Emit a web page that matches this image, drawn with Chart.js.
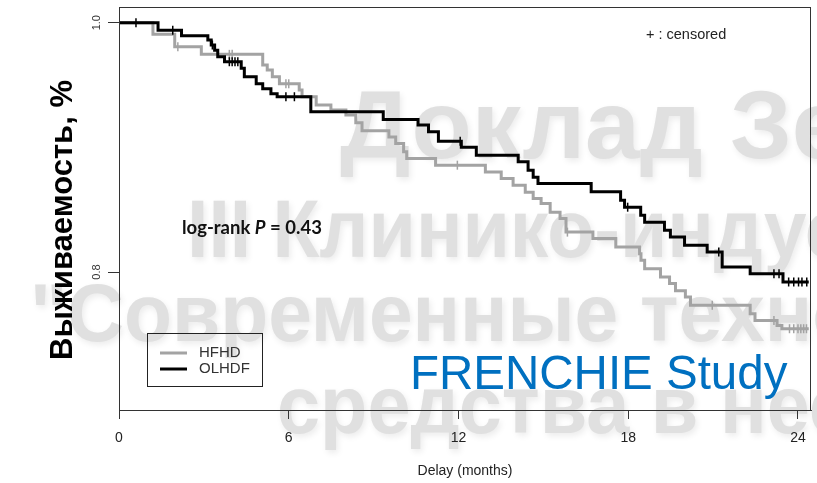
<!DOCTYPE html>
<html lang="ru">
<head>
<meta charset="UTF-8">
<title>FRENCHIE Study</title>
<script src="https://cdn.jsdelivr.net/npm/chart.js"></script>
<style>
    body { margin: 0; background: #fff; }
    canvas { display: block; }
</style>
</head>
<body>
<canvas id="kmChart" width="817" height="483"></canvas>
<script>
// Kaplan-Meier steps: time (months) and survival after each drop
const hfhdTime = [0, 1.20, 1.97, 2.91, 5.08, 5.24, 5.42, 5.67, 6.37, 6.47, 6.97, 7.49, 8.02, 8.37, 8.59, 9.54, 9.78, 10.06, 10.17, 11.19, 12.95, 13.51, 13.93, 14.36, 14.64, 14.92, 15.24, 15.59, 15.80, 16.75, 17.56, 18.40, 18.45, 18.58, 19.14, 19.46, 19.67, 20.02, 20.20, 22.31, 22.48, 23.26, 23.43, 24.38];
const hfhdSurv = [1.0, 0.9907, 0.9807, 0.9746, 0.966, 0.962, 0.9566, 0.951, 0.946, 0.9406, 0.9339, 0.93, 0.926, 0.9197, 0.9133, 0.9084, 0.903, 0.8964, 0.891, 0.8857, 0.8803, 0.875, 0.8697, 0.864, 0.859, 0.855, 0.848, 0.843, 0.832, 0.8268, 0.820, 0.8147, 0.8094, 0.8027, 0.796, 0.7907, 0.785, 0.780, 0.7733, 0.7666, 0.761, 0.757, 0.7545, 0.7545];
const hfhdCensored = [2.08, 3.9, 4.0, 5.9, 6.0, 11.96, 15.85, 20.97, 23.15, 23.7, 23.85, 24.0, 24.1, 24.2, 24.3];

const olhdfTime = [0, 1.38, 2.21, 3.14, 3.26, 3.38, 3.49, 3.73, 4.32, 4.43, 4.85, 5.08, 5.37, 5.59, 6.78, 9.34, 10.57, 10.94, 11.29, 12.10, 12.63, 14.11, 14.46, 14.64, 14.81, 16.69, 17.73, 17.87, 18.44, 18.58, 19.28, 19.49, 19.99, 20.79, 21.32, 22.31, 23.47, 24.38];
const olhdfSurv = [1.0, 0.994, 0.9896, 0.9861, 0.9821, 0.978, 0.9727, 0.9687, 0.9634, 0.9566, 0.951, 0.947, 0.943, 0.9406, 0.9285, 0.9224, 0.918, 0.9125, 0.905, 0.900, 0.8937, 0.8884, 0.8817, 0.876, 0.871, 0.8643, 0.8576, 0.852, 0.8455, 0.840, 0.8335, 0.828, 0.8214, 0.816, 0.804, 0.7987, 0.792, 0.792];
const olhdfCensored = [0.6, 1.9, 3.3, 3.9, 4.0, 4.1, 4.2, 5.9, 6.2, 12.06, 17.98, 21.2, 23.15, 23.33, 23.67, 23.85, 24.02, 24.14, 24.31];

const xTicks = [0, 6, 12, 18, 24];
const yTicks = [0.8, 1.0];

const FONT = '"Liberation Sans", Arial, sans-serif';
const GRAY = '#a3a3a3';

// survival value of a step curve at time t (for placing the censor ticks)
function stepValue(times, surv, t) {
    let v = surv[0];
    for (let i = 0; i < times.length; i++) {
        if (times[i] <= t) v = surv[i];
    }
    return v;
}

function curve(times, surv) {
    return times.map((t, i) => ({ x: t, y: surv[i] }));
}

function censorPoints(censored, times, surv) {
    return censored.map(t => ({ x: t, y: stepValue(times, surv, t) }));
}

// background watermark of the slide
const watermark = [
    { text: 'Доклад Зе', fit: 'Доклад ', x: 340, y: 158, size: 96, w: 390 },
    { text: 'III Клинико-индус', fit: 'III Клинико-', x: 187, y: 257, size: 82, w: 433 },
    { text: '"Современные техно', fit: '"Современные ', x: 30, y: 341, size: 82, w: 610 },
    { text: 'средства в нес', fit: 'средства в ', x: 277, y: 433, size: 82, w: 443 }
];

const backgroundPlugin = {
    id: 'background',
    beforeDraw(chart) {
        const ctx = chart.ctx;
        ctx.save();
        ctx.fillStyle = '#fff';
        ctx.fillRect(0, 0, chart.width, chart.height);
        ctx.fillStyle = '#e0e0e0';
        ctx.shadowColor = 'rgba(0, 0, 0, 0.08)';
        ctx.shadowBlur = 6;
        ctx.shadowOffsetX = 2;
        ctx.shadowOffsetY = 3;
        ctx.textBaseline = 'alphabetic';
        ctx.textAlign = 'left';
        watermark.forEach(w => {
            ctx.font = 'bold ' + w.size + 'px ' + FONT;
            const sx = w.w / ctx.measureText(w.fit).width;
            ctx.save();
            ctx.translate(w.x, w.y);
            ctx.scale(sx, 1);
            ctx.fillText(w.text, 0, 0);
            ctx.restore();
        });
        ctx.restore();
    }
};

const overlayPlugin = {
    id: 'overlay',
    afterDatasetsDraw(chart) {
        const { ctx, chartArea: a } = chart;
        ctx.save();
        ctx.strokeStyle = '#333';
        ctx.lineWidth = 1;
        ctx.strokeRect(a.left + 0.5, a.top + 0.5, a.right - a.left - 1, a.bottom - a.top);
        ctx.restore();
    },
    afterDraw(chart) {
        const ctx = chart.ctx;
        const yScale = chart.scales.y;
        ctx.save();

        // rotated y tick labels
        ctx.fillStyle = '#333';
        ctx.font = '11px ' + FONT;
        ctx.textAlign = 'center';
        ctx.textBaseline = 'middle';
        yScale.ticks.forEach(t => {
            ctx.save();
            ctx.translate(97, yScale.getPixelForValue(t.value));
            ctx.rotate(-Math.PI / 2);
            ctx.fillText(t.value.toFixed(1), 0, 0);
            ctx.restore();
        });

        // y axis title
        ctx.fillStyle = '#000';
        ctx.font = 'bold 31px ' + FONT;
        ctx.save();
        ctx.translate(63, 220);
        ctx.rotate(-Math.PI / 2);
        ctx.fillText('Выживаемость, %', 0, 0);
        ctx.restore();

        // censored note
        ctx.textAlign = 'left';
        ctx.fillStyle = '#222';
        ctx.font = '14.5px ' + FONT;
        ctx.fillText('+ : censored', 646, 35);

        // log-rank P
        ctx.textBaseline = 'alphabetic';
        ctx.fillStyle = '#111';
        let x = 182;
        const parts = [['log-rank ', 'bold'], ['P', 'bold italic'], [' = 0.43', 'bold']];
        parts.forEach(p => {
            ctx.font = p[1] + ' 18.5px Lato, ' + FONT;
            ctx.fillText(p[0], x, 234);
            x += ctx.measureText(p[0]).width;
        });

        // legend box
        ctx.strokeStyle = '#222';
        ctx.lineWidth = 1;
        ctx.strokeRect(147.5, 333.5, 115, 53);
        const items = chart.data.datasets.filter(d => !d.censor).reverse();
        ctx.font = '15px ' + FONT;
        ctx.textBaseline = 'middle';
        items.forEach((d, i) => {
            const y = 353 + i * 16;
            ctx.strokeStyle = d.borderColor;
            ctx.lineWidth = 3;
            ctx.beginPath();
            ctx.moveTo(160, y);
            ctx.lineTo(187, y);
            ctx.stroke();
            ctx.fillStyle = '#333';
            ctx.fillText(d.label, 199, y);
        });

        // study label
        ctx.fillStyle = '#0070c0';
        ctx.textBaseline = 'alphabetic';
        ctx.font = '47.5px ' + FONT;
        ctx.fillText('FRENCHIE Study', 410, 389);

        ctx.restore();
    }
};

const censorStyle = {
    showLine: false,
    pointStyle: 'line',
    pointRotation: 90,
    pointRadius: 4.5,
    pointHoverRadius: 4.5,
    pointBorderWidth: 1.5,
    censor: true
};

new Chart(document.getElementById('kmChart'), {
    type: 'line',
    data: {
        datasets: [
            {
                label: 'OLHDF',
                data: curve(olhdfTime, olhdfSurv),
                borderColor: '#000',
                borderWidth: 3,
                stepped: true,
                pointRadius: 0,
                fill: false
            },
            Object.assign({
                label: 'OLHDF censored',
                data: censorPoints(olhdfCensored, olhdfTime, olhdfSurv),
                borderColor: '#000',
                pointBorderColor: '#000'
            }, censorStyle),
            {
                label: 'HFHD',
                data: curve(hfhdTime, hfhdSurv),
                borderColor: GRAY,
                borderWidth: 3,
                stepped: true,
                pointRadius: 0,
                fill: false
            },
            Object.assign({
                label: 'HFHD censored',
                data: censorPoints(hfhdCensored, hfhdTime, hfhdSurv),
                borderColor: GRAY,
                pointBorderColor: GRAY
            }, censorStyle)
        ]
    },
    options: {
        responsive: false,
        animation: false,
        devicePixelRatio: 1,
        layout: { padding: { left: 0, right: 3, top: 7, bottom: 0 } },
        plugins: {
            legend: { display: false },
            tooltip: { enabled: false }
        },
        scales: {
            x: {
                type: 'linear',
                min: 0,
                max: 24.46,
                afterBuildTicks: s => { s.ticks = xTicks.map(v => ({ value: v })); },
                afterFit: s => { s.height = 73; },
                grid: { drawOnChartArea: false, tickLength: 9, color: '#333' },
                border: { display: true, color: '#333', width: 1 },
                ticks: { color: '#222', font: { family: FONT, size: 14 }, padding: 10.6, maxRotation: 0, autoSkip: false },
                title: { display: true, text: 'Delay (months)', color: '#222', font: { family: FONT, size: 14 }, padding: { top: 0, bottom: 3 } }
            },
            y: {
                min: 0.6893,
                max: 1.0126,
                afterBuildTicks: s => { s.ticks = yTicks.map(v => ({ value: v })); },
                afterFit: s => { s.width = 119; },
                grid: { drawOnChartArea: false, tickLength: 11, color: '#333' },
                border: { display: true, color: '#333', width: 1 },
                ticks: { display: false }
            }
        }
    },
    plugins: [backgroundPlugin, overlayPlugin]
});
</script>
</body>
</html>
